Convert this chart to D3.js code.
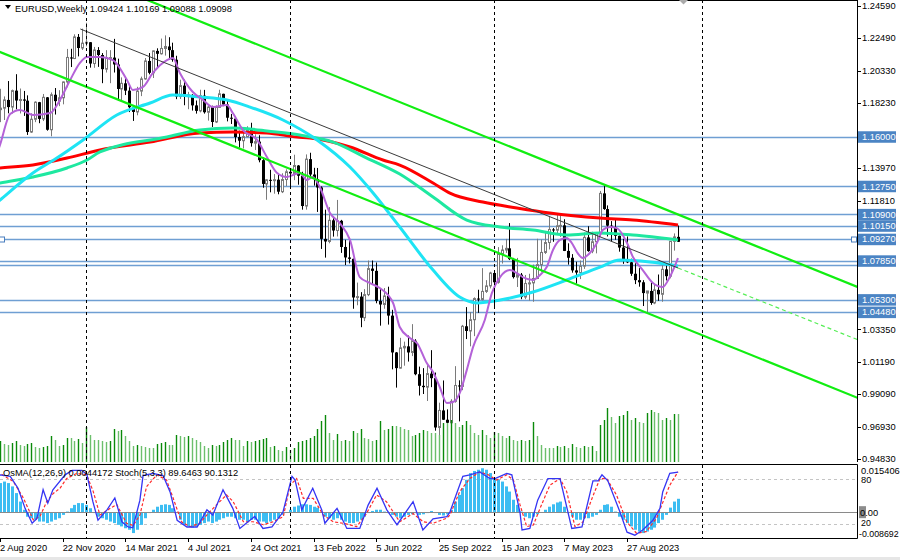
<!DOCTYPE html>
<html><head><meta charset="utf-8">
<script src="https://cdn.jsdelivr.net/npm/d3@7"></script>
<style>
html,body{margin:0;padding:0;background:#fff;}
svg{display:block;font-family:"Liberation Sans",Arial,sans-serif;}
</style></head><body>
<svg id="c" width="900" height="560"></svg>
<script>
// ---------- DATA ----------
const firstWeek = -3; // week index of first candle (index 0 = 2 Aug 2020)
const candles = [
[1.1300,1.1452,1.1255,1.1428],[1.1428,1.1660,1.1420,1.1655],[1.1655,1.1908,1.1650,1.1778],
[1.1778,1.1915,1.1696,1.1788],[1.1788,1.1865,1.1710,1.1842],[1.1842,1.1966,1.1754,1.1795],[1.1795,1.1910,1.1753,1.1903],
[1.1903,1.2011,1.1780,1.1838],[1.1838,1.1917,1.1753,1.1845],[1.1845,1.1901,1.1737,1.1837],[1.1837,1.1872,1.1612,1.1631],
[1.1631,1.1754,1.1625,1.1715],[1.1715,1.1833,1.1696,1.1827],[1.1827,1.1829,1.1689,1.1717],[1.1717,1.1881,1.1703,1.1859],
[1.1859,1.1861,1.1640,1.1646],[1.1646,1.1891,1.1603,1.1876],[1.1876,1.1920,1.1746,1.1834],[1.1834,1.1906,1.1801,1.1856],
[1.1856,1.1963,1.1813,1.1960],[1.1960,1.2177,1.1925,1.2121],[1.2121,1.2178,1.2058,1.2114],[1.2114,1.2273,1.2110,1.2256],
[1.2256,1.2275,1.2128,1.2183],[1.2183,1.2310,1.2170,1.2215],[1.2215,1.2349,1.2194,1.2221],[1.2221,1.2222,1.2054,1.2081],
[1.2081,1.2190,1.2053,1.2170],[1.2170,1.2189,1.2059,1.2137],[1.2137,1.2150,1.1952,1.2044],[1.2044,1.2169,1.2022,1.2119],
[1.2119,1.2169,1.1952,1.2120],[1.2120,1.2243,1.2022,1.2075],[1.2075,1.2113,1.1835,1.1914],[1.1914,1.1990,1.1836,1.1951],
[1.1951,1.1989,1.1874,1.1903],[1.1903,1.1943,1.1762,1.1794],[1.1794,1.1796,1.1704,1.1763],[1.1763,1.1928,1.1741,1.1900],
[1.1900,1.1995,1.1867,1.1980],[1.1980,1.2117,1.1975,1.2098],[1.2098,1.2150,1.2010,1.2020],[1.2020,1.2167,1.1986,1.2164],
[1.2164,1.2181,1.2051,1.2145],[1.2145,1.2245,1.2140,1.2180],[1.2180,1.2266,1.2133,1.2193],[1.2193,1.2254,1.2105,1.2169],
[1.2169,1.2218,1.2093,1.2106],[1.2106,1.2132,1.1847,1.1864],[1.1864,1.1975,1.1848,1.1936],[1.1936,1.1975,1.1807,1.1864],
[1.1864,1.1895,1.1781,1.1875],[1.1875,1.1880,1.1772,1.1806],[1.1806,1.1838,1.1752,1.1770],[1.1770,1.1909,1.1760,1.1870],
[1.1870,1.1908,1.1752,1.1761],[1.1761,1.1806,1.1706,1.1795],[1.1795,1.1804,1.1664,1.1697],[1.1697,1.1806,1.1690,1.1793],
[1.1793,1.1909,1.1790,1.1882],[1.1882,1.1883,1.1801,1.1812],[1.1812,1.1846,1.1701,1.1725],[1.1725,1.1750,1.1684,1.1719],
[1.1719,1.1725,1.1563,1.1598],[1.1598,1.1640,1.1529,1.1574],[1.1574,1.1624,1.1523,1.1601],[1.1601,1.1669,1.1597,1.1644],
[1.1644,1.1692,1.1535,1.1558],[1.1558,1.1616,1.1513,1.1568],[1.1568,1.1610,1.1432,1.1446],[1.1446,1.1464,1.1265,1.1290],
[1.1290,1.1322,1.1186,1.1317],[1.1317,1.1383,1.1235,1.1316],[1.1316,1.1355,1.1226,1.1318],[1.1318,1.1362,1.1222,1.1239],
[1.1239,1.1360,1.1230,1.1319],[1.1319,1.1386,1.1276,1.1370],[1.1370,1.1377,1.1272,1.1359],[1.1359,1.1482,1.1315,1.1411],
[1.1411,1.1414,1.1285,1.1344],[1.1344,1.1370,1.1121,1.1145],[1.1145,1.1484,1.1121,1.1453],[1.1453,1.1495,1.1340,1.1352],
[1.1352,1.1396,1.1279,1.1322],[1.1322,1.1395,1.1106,1.1267],[1.1267,1.1274,1.0863,1.0929],[1.0929,1.1121,1.0806,1.0912],
[1.0912,1.1138,1.0900,1.1051],[1.1051,1.1070,1.0944,1.0984],[1.0984,1.1185,1.0945,1.1048],[1.1048,1.1054,1.0837,1.0876],
[1.0876,1.0923,1.0757,1.0807],[1.0807,1.0936,1.0768,1.0798],[1.0798,1.0800,1.0470,1.0544],[1.0544,1.0642,1.0493,1.0550],
[1.0550,1.0579,1.0349,1.0411],[1.0411,1.0599,1.0389,1.0563],[1.0563,1.0787,1.0553,1.0734],[1.0734,1.0787,1.0627,1.0719],
[1.0719,1.0774,1.0506,1.0521],[1.0521,1.0601,1.0359,1.0498],[1.0498,1.0606,1.0470,1.0554],[1.0554,1.0615,1.0366,1.0425],
[1.0425,1.0463,1.0072,1.0183],[1.0183,1.0186,0.9952,1.0080],[1.0080,1.0279,1.0077,1.0213],[1.0213,1.0254,1.0096,1.0223],
[1.0223,1.0294,1.0123,1.0183],[1.0183,1.0369,1.0159,1.0260],[1.0260,1.0270,1.0033,1.0040],[1.0040,1.0090,0.9900,0.9964],
[0.9964,1.0080,0.9910,0.9955],[0.9955,1.0113,0.9864,1.0044],[1.0044,1.0198,0.9955,1.0014],[1.0014,1.0051,0.9669,0.9690],
[0.9690,0.9853,0.9536,0.9802],[0.9802,0.9999,0.9740,0.9741],[0.9741,0.9809,0.9632,0.9721],[0.9721,0.9876,0.9705,0.9862],
[0.9862,1.0093,0.9853,0.9966],[0.9966,1.0000,0.9730,0.9960],[0.9960,1.0364,0.9935,1.0355],[1.0355,1.0481,1.0271,1.0324],
[1.0324,1.0448,1.0223,1.0398],[1.0398,1.0545,1.0290,1.0537],[1.0537,1.0595,1.0443,1.0531],[1.0531,1.0737,1.0525,1.0584],
[1.0584,1.0658,1.0574,1.0620],[1.0620,1.0713,1.0604,1.0705],[1.0705,1.0713,1.0483,1.0644],[1.0644,1.0875,1.0635,1.0830],
[1.0830,1.0887,1.0767,1.0856],[1.0856,1.0929,1.0837,1.0867],[1.0867,1.1033,1.0790,1.0796],[1.0796,1.0804,1.0669,1.0678],
[1.0678,1.0804,1.0613,1.0694],[1.0694,1.0705,1.0533,1.0547],[1.0547,1.0692,1.0533,1.0636],[1.0636,1.0700,1.0524,1.0640],
[1.0640,1.0760,1.0516,1.0669],[1.0669,1.0930,1.0665,1.0760],[1.0760,1.0925,1.0713,1.0840],[1.0840,1.0973,1.0830,1.0905],
[1.0905,1.1076,1.0860,1.0991],[1.0991,1.1000,1.0910,1.0986],[1.0986,1.1095,1.0961,1.1015],[1.1015,1.1092,1.0942,1.1018],
[1.1018,1.1058,1.0849,1.0850],[1.0850,1.0900,1.0760,1.0805],[1.0805,1.0829,1.0707,1.0722],[1.0722,1.0779,1.0635,1.0708],
[1.0708,1.0787,1.0665,1.0750],[1.0750,1.0971,1.0732,1.0939],[1.0939,1.1012,1.0844,1.0849],[1.0849,1.0976,1.0835,1.0910],
[1.0910,1.0970,1.0834,1.0967],[1.0967,1.1244,1.0965,1.1228],[1.1228,1.1276,1.1120,1.1125],[1.1125,1.1149,1.0945,1.1016],
[1.1016,1.1046,1.0912,1.1005],[1.1005,1.1064,1.0923,1.0949],[1.0949,1.0951,1.0845,1.0872],[1.0872,1.0930,1.0765,1.0796],
[1.0796,1.0945,1.0770,1.0775],[1.0775,1.0799,1.0686,1.0700],[1.0700,1.0769,1.0632,1.0658],[1.0658,1.0737,1.0615,1.0644],
[1.0644,1.0658,1.0488,1.0573],[1.0573,1.0587,1.0448,1.0587],[1.0587,1.0640,1.0496,1.0508],[1.0508,1.0626,1.0500,1.0594],
[1.0594,1.0695,1.0522,1.0565],[1.0565,1.0756,1.0516,1.0729],[1.0729,1.0756,1.0656,1.0684],[1.0684,1.0914,1.0670,1.0913],
[1.0913,1.0965,1.0852,1.0942],[1.09424,1.10169,1.09088,1.09098]
];
const volumes = [20,22,18,
21,18,17,19,21,17,16,18,19,15, 14,15,16,26,22,16,17,24,24,21, 23,19,35,27,22,22,21,20,21,33,
31,32,26,21,16,17,16,15,14,14, 18,19,20,17,17,27,26,25,26,24, 22,20,16,14,17,16,17,20,22,24,
22,22,16,21,20,21,22,23,24,15, 16,12,11,15,12,14, 20,
21,22,24,26,33,41,47,29,22,28, 21,22,21,31,29,33,24,23,21,22, 41,32,33,36,36,35,33,32,26,27,
29,32,31,29,29,27,39,39,42,39, 35,37,41,37,29,27,32,27,24,30, 29,26,24,26,22,21,22,21,22,40,
26,17,14,14,14,16,15,16,14,18, 15,14,16,15,16,11,
37,42,54,45,39,46,47,51,42,44, 40,39,49,52,50,49,42,44,42,48,48];
const osma = [0.0088,0.0092,0.0095,
0.0096,0.0101,0.0096,0.0085,0.0063,0.0035,0.0008,-0.0015,-0.0020,-0.0025,
-0.0031,-0.0031,-0.0036,-0.0031,-0.0025,-0.0020,-0.0009,0.0002,0.0013,0.0024,
0.0030,0.0030,0.0024,0.0013,-0.0003,-0.0015,-0.0020,-0.0025,-0.0031,-0.0036,
-0.0042,-0.0047,-0.0053,-0.0058,-0.0069,-0.0058,-0.0042,-0.0020,-0.0003,0.0008,
0.0018,0.0024,0.0026,0.0024,0.0013,-0.0003,-0.0025,-0.0042,-0.0047,-0.0051,
-0.0047,-0.0042,-0.0036,-0.0031,-0.0036,-0.0031,-0.0025,-0.0020,-0.0015,-0.0015,
-0.0020,-0.0025,-0.0025,-0.0031,-0.0025,-0.0025,-0.0031,-0.0031,-0.0036,-0.0031,
-0.0025,-0.0020,-0.0009,0.0000,0.0008,0.0018,0.0022,0.0026,0.0026,0.0024,
0.0018,0.0015,0.0000,-0.0015,-0.0020,-0.0025,-0.0020,-0.0025,-0.0031,-0.0036,
-0.0036,-0.0031,-0.0025,-0.0015,-0.0003,0.0004,0.0008,0.0008,0.0002,-0.0003,
-0.0009,-0.0015,-0.0020,-0.0015,-0.0009,-0.0007,-0.0003,-0.0009,-0.0007,-0.0003,
0.0004,-0.0003,-0.0009,-0.0011,-0.0007,0.0008,0.0035,0.0057,0.0079,0.0107,
0.0129,0.0136,0.0140,0.0145,0.0140,0.0129,0.0112,0.0107,0.0101,0.0085,
0.0068,0.0041,0.0024,0.0002,-0.0015,-0.0020,-0.0015,-0.0007,0.0000,0.0008,
0.0018,0.0026,0.0032,0.0035,0.0018,-0.0003,-0.0015,-0.0025,-0.0025,-0.0020,
-0.0020,-0.0015,-0.0009,0.0008,0.0024,0.0026,0.0018,0.0002,-0.0015,-0.0025,
-0.0036,-0.0047,-0.0058,-0.0064,-0.0069,-0.0064,-0.0058,-0.0051,-0.0036,-0.0025,
-0.0009,0.0015,0.0035,0.0044172];
// moving averages as [week index, price]
const maRed = [[-3,1.1388],[0,1.1395],[8.4,1.1414],[17.1,1.1460],[25.5,1.1513],[38.3,1.1565],[51,1.1625],[59.4,1.1631],[68.1,1.1625],[75.8,1.1598],[79.1,1.1592],[89.3,1.1533],[97.7,1.1447],[102,1.1414],[110.5,1.1296],[114.8,1.1230],[123.2,1.1171],[131.9,1.1132],[140.3,1.1099],[153.1,1.1066],[161.5,1.1053],[173,1.1020]];
const maAqua = [[-3,1.1280],[0,1.1296],[8.4,1.1336],[17.1,1.1395],[22.2,1.1447],[25.5,1.1500],[42.6,1.1598],[51,1.1644],[59.4,1.1657],[63.8,1.1651],[68.1,1.1638],[76.5,1.1611],[85,1.1565],[93.6,1.1460],[102,1.1355],[110.5,1.1204],[119.1,1.1053],[127.6,1.1007],[136,1.0987],[144.6,1.0954],[153.1,1.0968],[161.5,1.0954],[173,1.0922]];
const maCyan = [[-3,1.1118],[0,1.1184],[8.4,1.1362],[14.5,1.1460],[21.2,1.1579],[29.8,1.1743],[38.3,1.1822],[44.1,1.1874],[51,1.1861],[57.9,1.1841],[63.8,1.1795],[72.2,1.1710],[80.9,1.1579],[89.3,1.1401],[95.2,1.1231],[102,1.1007],[110.5,1.0724],[117.3,1.0547],[121.7,1.0508],[127.6,1.0527],[136,1.0580],[144.6,1.0659],[153.1,1.0744],[158.2,1.0790],[165.8,1.0777],[173,1.0751]];
const maPurple = [[-3,1.1300],[-1.5,1.1430],[0,1.1546],[2.6,1.1749],[5.1,1.1776],[8.4,1.1743],[12.8,1.1756],[15.3,1.1842],[17.9,1.1973],[20.4,1.2085],[22.2,1.2124],[25.5,1.2124],[28.8,1.2104],[32.4,1.1973],[33.9,1.1907],[36.5,1.1927],[39,1.2019],[42.6,1.2104],[44.1,1.2117],[45.9,1.2019],[49.2,1.1894],[51.8,1.1842],[54.3,1.1795],[57.9,1.1809],[59.4,1.1756],[62,1.1644],[65.6,1.1579],[68.1,1.1467],[70.7,1.1362],[73.2,1.1336],[76.5,1.1362],[78.3,1.1316],[79.8,1.1336],[81.6,1.1270],[84.2,1.1099],[86.7,1.1033],[89.3,1.0922],[91.8,1.0678],[94.4,1.0639],[96.9,1.0606],[100.3,1.0508],[102,1.0350],[104.6,1.0278],[106.4,1.0245],[108.9,1.0113],[110.5,1.0054],[112.2,0.9956],[114,0.9851],[115.6,0.9857],[117.3,0.9916],[119.1,1.0067],[120.7,1.0218],[123.7,1.0396],[125.5,1.0573],[127.6,1.0678],[130.1,1.0724],[131.9,1.0704],[133.4,1.0678],[136,1.0659],[137.8,1.0692],[139.5,1.0744],[141.1,1.0856],[142.9,1.0922],[144.6,1.0935],[145.9,1.0902],[147.2,1.0843],[148.7,1.0803],[150.5,1.0836],[152.3,1.0902],[153.8,1.0987],[155.6,1.1007],[157.4,1.1000],[160,1.0902],[161.5,1.0810],[164,1.0724],[166.6,1.0639],[169.1,1.0613],[170.9,1.0678],[173,1.0803]];
// stochastic as [week index, value]
const stochMain = [[-3,70],[0,86],[2.6,84],[4.6,68],[6.4,41],[8.2,21],[9.4,27],[11,66],[12.2,48],[13.5,66],[16.6,86],[18.4,92],[20.9,92],[22.2,86],[23.7,50],[25,25],[27.3,39],[29.3,55],[31.1,23],[32.7,16],[33.9,15],[35.7,52],[36.5,85],[39,88],[41.6,85],[43.4,63],[45.2,25],[47.7,16],[50.3,16],[52.8,39],[54.3,32],[56.9,66],[59.4,41],[61.2,14],[63.3,23],[65,30],[67.1,14],[69.4,16],[72.2,36],[74.5,84],[75.3,79],[77,39],[79.8,68],[82.1,39],[82.9,21],[86,41],[88.5,14],[91.8,14],[93.9,45],[96.2,68],[98.7,39],[101.3,19],[105.4,50],[107.9,12],[110.5,27],[114,30],[114.8,36],[118.1,84],[119.9,86],[122.4,90],[125,81],[126.3,81],[129.3,88],[130.6,86],[132.7,35],[133.2,12],[135.2,14],[137.2,52],[139.8,81],[142.9,81],[145.9,14],[148.5,16],[151.3,78],[152.6,78],[153.6,86],[155.1,78],[158.2,36],[160,9],[162,5],[164,12],[166.6,25],[168.4,41],[169.1,63],[170.9,88],[173,89.6463]];
const stochSignal = [[-3,80],[0,88],[3.4,77],[6,54.5],[8.5,25.4],[10.2,30],[11.9,50],[13.6,61],[15.3,68],[17,81],[19.6,88],[22.1,86],[23.8,63.5],[25.5,32],[28.1,41],[29.8,46],[32.3,21],[34,18],[35.7,32],[37.4,70],[40,86],[42.5,79],[44.2,54.5],[46.3,23],[48.5,16.4],[51,21],[53.1,34],[55.3,46],[57.8,59],[59.5,50],[62.1,23],[64.6,23],[67.2,19],[69.7,23],[72.3,30],[74,72],[75.7,81],[77.4,54.5],[79.9,54.5],[82.5,32],[85,23],[87.6,21],[91,16.4],[93.5,34],[96.1,59],[98.6,50],[102,23],[105.4,34],[108,23],[110.5,21],[113.9,27.6],[114.8,32],[117.3,63.5],[119.9,81],[122.4,90],[124.6,86],[126.7,79],[129.3,86],[131,79],[132.7,45.6],[134.4,16.4],[136.1,18.7],[137.8,41],[140.3,72],[142.9,81],[144.6,63.5],[146.7,16.4],[148.8,23],[151.4,59],[153.1,81],[154.8,81],[157.3,59],[159.9,23],[162.4,7.6],[164.9,9.8],[167.5,27.6],[169.2,50],[170.9,72],[173,90.1312]];
// drawn objects
const hLevels = [1.16000,1.12750,1.10900,1.10150,1.09270,1.07850,1.07600,1.05300,1.04480];
const boxedLevels = [1.16000,1.12750,1.10900,1.10150,1.09270,1.07850,1.05300,1.04480];
const priceTicks = [1.24590,1.22490,1.20330,1.18230,1.13970,1.11810,1.03350,1.01190,0.99090,0.96930,0.94830];
const dateTickWeeks = [0,16,32,48,64,80,96,112,128,144,160];
const dateTickLabels = ["2 Aug 2020","22 Nov 2020","14 Mar 2021","4 Jul 2021","24 Oct 2021","13 Feb 2022","5 Jun 2022","25 Sep 2022","15 Jan 2023","7 May 2023","27 Aug 2023"];
const yearSepWeeks = [22,74,126,179];
const channelUpper = [[30,1.2577],[219,1.0611]];
const channelLower = [[-5,1.2209],[219,0.9883]];
const trendThin = [[20.5,1.2308],[173,1.0738]];
const trendDashed = [[173,1.0738],[219,1.0265]];
const headerText = "EURUSD,Weekly  1.09424 1.10169 1.09088 1.09098";
const subHeaderText = "OsMA(12,26,9) 0.0044172  Stoch(5,3,3) 89.6463 90.1312";
const osmaMax = 0.015406, osmaMin = -0.008692;

// ---------- SCALES ----------
const svg = d3.select("#c");
const RIGHT = 857;
const x = d3.scaleLinear().domain([0,173]).range([0,678]);
const y = d3.scaleLinear().domain([0.94830,1.24590]).range([459,6]);
const yVol = d3.scaleLinear().domain([0,60]).range([462,402]);
const yOs = d3.scaleLinear().domain([osmaMin,osmaMax]).range([538.5,465.5]);
const ySt = d3.scaleLinear().domain([0,100]).range([538.9,464.4]);
const X = i => Math.round(x(i)) + 0.5;

svg.append("rect").attr("width",900).attr("height",560).attr("fill","#fff");
const defs = svg.append("defs");
defs.append("clipPath").attr("id","cm").append("rect").attr("x",0).attr("y",0).attr("width",RIGHT).attr("height",462);
defs.append("clipPath").attr("id","cl").append("rect").attr("x",0).attr("y",465).attr("width",RIGHT).attr("height",73);

const main = svg.append("g").attr("clip-path","url(#cm)");
const low = svg.append("g").attr("clip-path","url(#cl)");

// year separators
yearSepWeeks.forEach(w=>{
  [[0,462],[465,538]].forEach(([a,b])=>{
    svg.append("line").attr("x1",X(w)).attr("x2",X(w)).attr("y1",a).attr("y2",b)
      .attr("stroke","#000").attr("stroke-width",1).attr("stroke-dasharray","3,3");
  });
});

// horizontal levels
main.selectAll(".hl").data(hLevels).join("line")
  .attr("x1",0).attr("x2",RIGHT).attr("y1",d=>Math.round(y(d))+0.5).attr("y2",d=>Math.round(y(d))+0.5)
  .attr("stroke","#6f9fd3").attr("stroke-width",1.4);

// candles
const cd = candles.map((c,k)=>({i:firstWeek+k,o:c[0],h:c[1],l:c[2],c:c[3]}));
const gc = main.append("g");
cd.forEach(d=>{
  const bull = d.c >= d.o, xx = X(d.i);
  gc.append("line").attr("x1",xx).attr("x2",xx).attr("y1",y(d.h)).attr("y2",y(d.l))
    .attr("stroke",bull?"#7a7a7a":"#000").attr("stroke-width",1);
  const top = y(Math.max(d.o,d.c)), hgt = Math.max(1,Math.abs(y(d.o)-y(d.c)));
  if(bull){
    gc.append("rect").attr("x",xx-1).attr("y",top).attr("width",2).attr("height",hgt)
      .attr("fill","#fff").attr("stroke","#7a7a7a").attr("stroke-width",1);
  } else {
    gc.append("rect").attr("x",xx-1.5).attr("y",top).attr("width",3).attr("height",hgt).attr("fill","#000");
  }
});

// volumes
main.append("g").selectAll("line").data(volumes).join("line")
  .attr("x1",(d,k)=>X(firstWeek+k)).attr("x2",(d,k)=>X(firstWeek+k))
  .attr("y1",yVol(0)).attr("y2",d=>yVol(d))
  .attr("stroke",(d,k)=> (k>0 && d>volumes[k-1]) ? "#0a8a0a" : "#6cbf6c")
  .attr("stroke-width",1.4);

// moving averages
const maLine = d3.line().x(d=>x(d[0])).y(d=>y(d[1])).curve(d3.curveMonotoneX);
[[maRed,"#ff0000",3],[maAqua,"#1ee8a0",3],[maCyan,"#1ee4f4",3],[maPurple,"#b462d8",2]].forEach(([data,col,w])=>{
  main.append("path").attr("d",maLine(data)).attr("fill","none").attr("stroke",col).attr("stroke-width",w)
    .attr("stroke-linejoin","round");
});

// trend / channel lines
const tl = d3.line().x(d=>x(d[0])).y(d=>y(d[1]));
main.append("path").attr("d",tl(trendThin)).attr("stroke","#3a3a3a").attr("stroke-width",1).attr("fill","none");
main.append("path").attr("d",tl(trendDashed)).attr("stroke","#55ee55").attr("stroke-width",1.2).attr("stroke-dasharray","4,3").attr("fill","none");
main.append("path").attr("d",tl(channelUpper)).attr("stroke","#11ee11").attr("stroke-width",2.2).attr("fill","none");
main.append("path").attr("d",tl(channelLower)).attr("stroke","#11ee11").attr("stroke-width",2.2).attr("fill","none");

// selection handles on current price line
[2,854].forEach(px=>{
  svg.append("rect").attr("x",px-2.5).attr("y",Math.round(y(1.0927))-2).attr("width",5).attr("height",5)
    .attr("fill","#fff").attr("stroke","#4a7fbf").attr("stroke-width",1);
});

// top border + shift marker
svg.append("line").attr("x1",0).attr("x2",RIGHT).attr("y1",0.5).attr("y2",0.5).attr("stroke","#000");
svg.append("path").attr("d","M679,0 L688,0 L683.5,4.5 Z").attr("fill","#aaa");

// header
svg.append("path").attr("d","M5,5 L11,5 L8,9 Z").attr("fill","#000");
svg.append("text").attr("x",15).attr("y",12).attr("font-size",9.3).attr("fill","#000").text(headerText);

// right axis
svg.append("line").attr("x1",RIGHT+0.5).attr("x2",RIGHT+0.5).attr("y1",0).attr("y2",462).attr("stroke","#000");
priceTicks.forEach(p=>{
  svg.append("line").attr("x1",RIGHT).attr("x2",RIGHT+4).attr("y1",Math.round(y(p))+0.5).attr("y2",Math.round(y(p))+0.5).attr("stroke","#000");
  svg.append("text").attr("x",862).attr("y",y(p)+3.3).attr("font-size",9.3).attr("fill","#000").text(p.toFixed(5));
});
boxedLevels.forEach(p=>{
  svg.append("rect").attr("x",858).attr("y",y(p)-5.5).attr("width",38).attr("height",11.5).attr("fill","#4b84c4");
  svg.append("text").attr("x",862).attr("y",y(p)+3.3).attr("font-size",9.3).attr("fill","#fff").text(p.toFixed(5));
});

// ---------- LOWER PANEL ----------
svg.append("line").attr("x1",0).attr("x2",RIGHT+0.5).attr("y1",464.5).attr("y2",464.5).attr("stroke","#000");
svg.append("line").attr("x1",0).attr("x2",RIGHT+0.5).attr("y1",538.5).attr("y2",538.5).attr("stroke","#000");
svg.append("line").attr("x1",RIGHT+0.5).attr("x2",RIGHT+0.5).attr("y1",464.5).attr("y2",538.5).attr("stroke","#000");
[80,20].forEach(v=>{
  low.append("line").attr("x1",0).attr("x2",RIGHT).attr("y1",Math.round(ySt(v))+0.5).attr("y2",Math.round(ySt(v))+0.5)
    .attr("stroke","#c4c4c4").attr("stroke-dasharray","3,3");
});
low.selectAll(".os").data(osma).join("rect")
  .attr("x",(d,k)=>X(firstWeek+k)-1.5).attr("width",3)
  .attr("y",d=>Math.min(yOs(d),yOs(0))).attr("height",d=>Math.max(0.5,Math.abs(yOs(d)-yOs(0))))
  .attr("fill","#3cbdf2");
low.append("line").attr("x1",0).attr("x2",RIGHT).attr("y1",Math.round(yOs(0))+0.5).attr("y2",Math.round(yOs(0))+0.5).attr("stroke","#8a8a8a");
const stl = d3.line().x(d=>x(d[0])).y(d=>ySt(d[1]));
low.append("path").attr("d",stl(stochSignal)).attr("fill","none").attr("stroke","#ff2a2a").attr("stroke-width",1.2).attr("stroke-dasharray","3,2");
low.append("path").attr("d",stl(stochMain)).attr("fill","none").attr("stroke","#3434f4").attr("stroke-width",1.3);
svg.append("text").attr("x",3).attr("y",476).attr("font-size",9.3).attr("fill","#000").text(subHeaderText);

// lower panel right labels
svg.append("text").attr("x",861).attr("y",yOs(osmaMax)+8).attr("font-size",9.3).text(String(osmaMax));
svg.append("text").attr("x",861).attr("y",ySt(80)+4).attr("font-size",9.3).text("80");
svg.append("rect").attr("x",859).attr("y",yOs(0)-6).attr("width",7).attr("height",12).attr("fill","#8c8c8c");
svg.append("text").attr("x",860).attr("y",yOs(0)+3.5).attr("font-size",9.3).text("0.00");
svg.append("text").attr("x",861).attr("y",526).attr("font-size",8.8).text("20");
svg.append("text").attr("x",859).attr("y",537).attr("font-size",8.8).text(String(osmaMin));

// date labels
dateTickWeeks.forEach((w,k)=>{
  svg.append("line").attr("x1",X(w)).attr("x2",X(w)).attr("y1",538.5).attr("y2",542).attr("stroke","#000");
  svg.append("text").attr("x",x(w)).attr("y",551).attr("font-size",9.3).attr("fill","#000").text(dateTickLabels[k]);
});
svg.append("rect").attr("x",0).attr("y",557).attr("width",900).attr("height",3).attr("fill","#e6e6e6");
</script>
</body></html>
